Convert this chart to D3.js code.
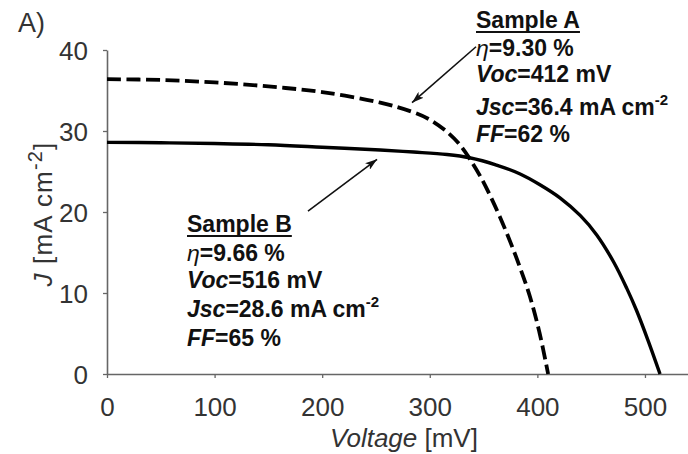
<!DOCTYPE html>
<html><head><meta charset="utf-8">
<script src="https://cdn.jsdelivr.net/npm/d3@7"></script>
<style>
html,body{margin:0;padding:0;background:#fff;}
svg{display:block;font-family:"Liberation Sans",Arial,sans-serif;}
</style></head>
<body>
<script>
// ---- data ----
const voltageA = [0, 50, 100, 150, 200, 254, 285, 300, 316, 328, 337, 347, 356, 365, 375, 384, 393, 402, 410];
const currentA = [36.4, 36.3, 36.0, 35.5, 34.8, 33.5, 32.3, 31.4, 29.9, 28.3, 26.6, 24.4, 22.05, 19.45, 16.25, 13.1, 9.6, 5.1, 0];
const voltageB = [0, 50, 100, 150, 200, 254, 285, 316, 337, 362, 384, 402, 421, 440, 455, 471, 483, 492, 503, 514];
const currentB = [28.6, 28.55, 28.45, 28.3, 28.0, 27.65, 27.4, 27.1, 26.7, 25.8, 24.7, 23.4, 21.75, 19.55, 17.2, 13.8, 10.6, 7.9, 4.1, 0];
const xTicks = [0, 100, 200, 300, 400, 500];
const yTicks = [0, 10, 20, 30, 40];
const sampleALines = ["Sample A", "9.30 %", "412 mV", "36.4 mA cm", "62 %"];
const sampleBLines = ["Sample B", "9.66 %", "516 mV", "28.6 mA cm", "65 %"];

const W = 688, H = 454;
const svg = d3.select("body").append("svg").attr("width", W).attr("height", H);

const x = d3.scaleLinear().domain([0, 540]).range([107, 688]);
const y = d3.scaleLinear().domain([0, 40]).range([374, 50]);

const axisColor = "#666";
const textColor = "#333";

// axes
const gx = svg.append("g").attr("transform", `translate(0,${y(0)})`)
  .call(d3.axisBottom(x).tickValues(xTicks).tickSize(4).tickPadding(20).tickSizeOuter(0));
const gy = svg.append("g").attr("transform", `translate(${x(0)},0)`)
  .call(d3.axisLeft(y).tickValues(yTicks).tickSize(4).tickPadding(15).tickSizeOuter(0));
[gx, gy].forEach(g => {
  g.select(".domain").attr("stroke", axisColor).attr("stroke-width", 1.6);
  g.selectAll(".tick line").attr("stroke", axisColor).attr("stroke-width", 1.3);
  g.selectAll(".tick text").attr("fill", textColor).style("font-size", "26px")
    .style("font-family", "'Liberation Sans',Arial,sans-serif");
});
gy.selectAll(".tick text").attr("dy", "0.36em");

// axis titles
const xt = svg.append("text").attr("x", 404).attr("y", 447).attr("text-anchor", "middle")
  .attr("fill", textColor).style("font-size", "26px");
xt.append("tspan").attr("font-style", "italic").text("Voltage");
xt.append("tspan").text(" [mV]");

const yt = svg.append("text").attr("transform", "translate(52,214) rotate(-90)")
  .attr("text-anchor", "middle").attr("fill", textColor).style("font-size", "26px")
  .style("letter-spacing", "1.2px");
yt.append("tspan").attr("font-style", "italic").text("J");
yt.append("tspan").text(" [mA cm");
yt.append("tspan").attr("dy", -10).style("font-size", "20px").text("-2");
yt.append("tspan").attr("dy", 10).text("]");

// panel label
svg.append("text").attr("x", 18).attr("y", 32).attr("fill", textColor)
  .style("font-size", "27px").text("A)");

// curves
const line = d3.line().x(d => x(d[0])).y(d => y(d[1])).curve(d3.curveCatmullRom.alpha(0.5));
const dataA = voltageA.map((v, i) => [v, currentA[i]]);
const dataB = voltageB.map((v, i) => [v, currentB[i]]);

svg.append("path").datum(dataB).attr("d", line).attr("fill", "none")
  .attr("stroke", "#000").attr("stroke-width", 3.4);
svg.append("path").datum(dataA).attr("d", line).attr("fill", "none")
  .attr("stroke", "#000").attr("stroke-width", 3.8).attr("stroke-dasharray", "14,5.5");

// arrows
const defs = svg.append("defs");
defs.append("marker").attr("id", "ah").attr("viewBox", "0 0 12 8")
  .attr("refX", 12).attr("refY", 4).attr("markerWidth", 12).attr("markerHeight", 8)
  .attr("markerUnits", "userSpaceOnUse").attr("orient", "auto")
  .append("path").attr("d", "M0,0 L12,4 L0,8 L3,4 Z").attr("fill", "#111");

const arrows = [
  {from: [343, 40.4], to: [283.5, 33.5]},
  {from: [186.8, 20.1], to: [251, 26.5]}
];
arrows.forEach(a => {
  svg.append("line")
    .attr("x1", x(a.from[0])).attr("y1", y(a.from[1]))
    .attr("x2", x(a.to[0])).attr("y2", y(a.to[1]))
    .attr("stroke", "#111").attr("stroke-width", 1.6).attr("marker-end", "url(#ah)");
});

// annotations
function annotate(lines, px, baselines) {
  const g = svg.append("g").attr("fill", "#111").style("font-size", "23px").style("font-weight", "bold");
  const t0 = g.append("text").attr("x", px).attr("y", baselines[0]).text(lines[0]);
  const bb = t0.node().getBBox();
  g.append("rect").attr("x", px).attr("y", baselines[0] + 3).attr("width", bb.width).attr("height", 2).attr("fill", "#111");
  const t1 = g.append("text").attr("x", px).attr("y", baselines[1]);
  t1.append("tspan").attr("font-style", "italic").attr("font-weight", "normal").text("η");
  t1.append("tspan").text("=" + lines[1]);
  const t2 = g.append("text").attr("x", px).attr("y", baselines[2]);
  t2.append("tspan").attr("font-style", "italic").text("Voc");
  t2.append("tspan").text("=" + lines[2]);
  const t3 = g.append("text").attr("x", px).attr("y", baselines[3]);
  t3.append("tspan").attr("font-style", "italic").text("Jsc");
  t3.append("tspan").text("=" + lines[3]);
  t3.append("tspan").attr("dy", -10).style("font-size", "15px").text("-2");
  const t4 = g.append("text").attr("x", px).attr("y", baselines[4]);
  t4.append("tspan").attr("font-style", "italic").text("FF");
  t4.append("tspan").text("=" + lines[4]);
}
annotate(sampleALines, 476, [28, 55.5, 81.5, 115, 142]);
annotate(sampleBLines, 187, [232, 261, 288, 317, 346]);
</script>
</body></html>
